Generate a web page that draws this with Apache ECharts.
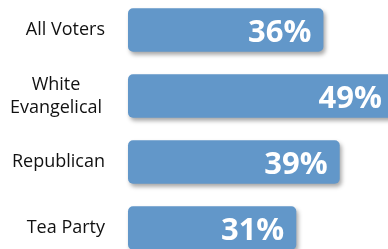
<!DOCTYPE html>
<html>
<head>
<meta charset="utf-8">
<script src="https://cdn.jsdelivr.net/npm/echarts@6/dist/echarts.min.js"></script>
<style>
  html, body { margin: 0; padding: 0; background: #fff; }
  #chart { width: 388px; height: 249px; }
</style>
</head>
<body>
<div id="chart"></div>
<script>
let categories = ["All Voters", "White\nEvangelical", "Republican", "Tea Party"];
let values = [36, 49, 39, 31];

let chart = echarts.init(document.getElementById("chart"));

let option = {
    animation: false,
    grid: {
        left: 128,
        width: 266,
        top: -3,
        height: 264,
        outerBoundsMode: 'none'
    },
    xAxis: {
        type: 'value',
        min: 0,
        max: 49,
        show: false
    },
    yAxis: {
        type: 'category',
        inverse: true,
        data: categories,
        axisLine: { show: false },
        axisTick: { show: false },
        axisLabel: {
            margin: 23,
            align: 'right',
            color: '#111',
            fontFamily: 'Open Sans',
            fontSize: 18,
            formatter: function (v) {
                if (v.indexOf("\n") >= 0) {
                    return v.split("\n").map(function (s) { return '{c|' + s + '}'; }).join("\n");
                }
                return v;
            },
            rich: {
                c: {
                    width: 98,
                    align: 'center',
                    fontFamily: 'Open Sans',
                    fontSize: 18,
                    lineHeight: 23,
                    color: '#111'
                }
            }
        }
    },
    series: [{
        type: 'bar',
        data: values,
        barCategoryGap: '34%',
        itemStyle: {
            color: '#6297c9',
            borderRadius: 5,
            shadowColor: 'rgba(0,0,0,0.35)',
            shadowBlur: 4,
            shadowOffsetX: 2,
            shadowOffsetY: 3
        },
        label: {
            show: true,
            position: 'insideRight',
            distance: 12,
            offset: [0, 3],
            formatter: '{c}%',
            color: '#fff',
            fontFamily: 'Open Sans',
            fontWeight: 'bold',
            fontSize: 31
        }
    }]
};

chart.setOption(option);
</script>
</body>
</html>
